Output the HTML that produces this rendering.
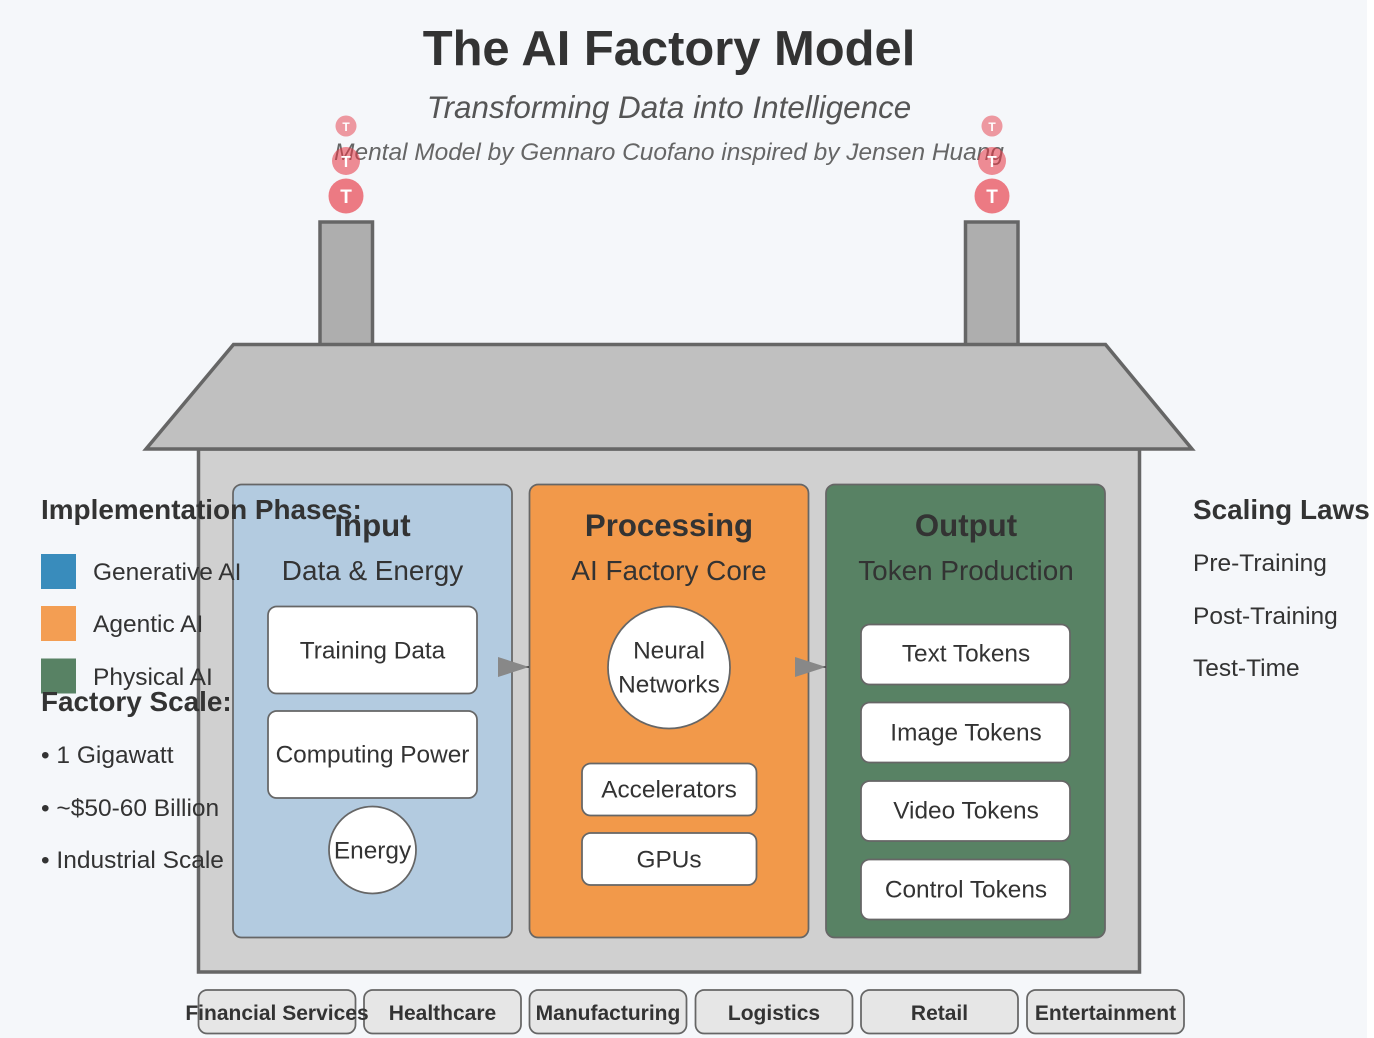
<!DOCTYPE html>
<html><head><meta charset="utf-8"><title>The AI Factory Model</title>
<style>
html,body{margin:0;padding:0;background:#f5f7fa;}
svg{display:block;font-family:"Liberation Sans",Arial,sans-serif;}
text{fill:#333;}
.m{text-anchor:middle;}
.h{font-size:31.2px;font-weight:bold;}
.s{font-size:27.9px;}
.n{font-size:24.4px;}
.l{font-size:24.5px;}
.lh{font-size:27.9px;font-weight:bold;}
.b{fill:#fff;stroke:#666;stroke-width:1.75;}
.p{stroke:#666;stroke-width:1.75;}
.i{fill:#e6e6e6;stroke:#666;stroke-width:1.75;}
.it{font-size:21px;font-weight:bold;text-anchor:middle;}
.tk{fill:#fff;font-weight:bold;text-anchor:middle;}
</style></head><body>
<svg width="1374" height="1038" viewBox="0 0 1374 1038" xmlns="http://www.w3.org/2000/svg">
<rect width="1367" height="1038" fill="#f5f7fa"/>
<rect x="1367" width="7" height="1038" fill="#fff"/>
<text x="669" y="65" class="m" font-size="48.900" font-weight="bold">The AI Factory Model</text>
<text x="669" y="118" class="m" font-size="31.400" font-style="italic" style="fill:#555">Transforming Data into Intelligence</text>
<text x="669" y="160" class="m" font-size="24.450" font-style="italic" style="fill:#666">Mental Model by Gennaro Cuofano inspired by Jensen Huang</text>

<rect x="320" y="222" width="52.500" height="125" fill="#aeaeae" stroke="#666" stroke-width="3.500"/>
<rect x="965.500" y="222" width="52.500" height="125" fill="#aeaeae" stroke="#666" stroke-width="3.500"/>

<circle cx="346" cy="196" r="17.500" fill="#e63946" opacity=".66"/>
<circle cx="346" cy="161" r="14" fill="#e63946" opacity=".57"/>
<circle cx="346" cy="126" r="10.500" fill="#e63946" opacity=".5"/>
<circle cx="992" cy="196" r="17.500" fill="#e63946" opacity=".66"/>
<circle cx="992" cy="161" r="14" fill="#e63946" opacity=".57"/>
<circle cx="992" cy="126" r="10.500" fill="#e63946" opacity=".5"/>
<text x="346" y="203" class="tk" font-size="19" style="fill:#fff">T</text>
<text x="346" y="167" class="tk" font-size="15.500" style="fill:#fff">T</text>
<text x="346" y="131" class="tk" font-size="12" style="fill:#fff">T</text>
<text x="992" y="203" class="tk" font-size="19" style="fill:#fff">T</text>
<text x="992" y="167" class="tk" font-size="15.500" style="fill:#fff">T</text>
<text x="992" y="131" class="tk" font-size="12" style="fill:#fff">T</text>

<rect x="198.500" y="449" width="941" height="523" fill="#d0d0d0" stroke="#666" stroke-width="3.500"/>
<polygon points="233.500,344.500 1105.500,344.500 1192,449 146,449" fill="#c0c0c0" stroke="#666" stroke-width="3.500"/>

<rect x="233" y="484.500" width="279" height="453" rx="8.700" fill="#b3cbe0" class="p"/>
<rect x="529.500" y="484.500" width="279" height="453" rx="8.700" fill="#f2994a" class="p"/>
<rect x="826" y="484.500" width="279" height="453" rx="8.700" fill="#588264" class="p"/>

<text x="372.500" y="536" class="m h">Input</text>
<text x="372.500" y="580" class="m s">Data &amp; Energy</text>
<text x="669" y="536" class="m h">Processing</text>
<text x="669" y="580" class="m s">AI Factory Core</text>
<text x="966" y="536" class="m h">Output</text>
<text x="966" y="580" class="m s">Token Production</text>

<rect x="268" y="606.500" width="209" height="87" rx="8.700" class="b"/>
<text x="372.500" y="658.500" class="m n">Training Data</text>
<rect x="268" y="711" width="209" height="87" rx="8.700" class="b"/>
<text x="372.500" y="762.500" class="m n">Computing Power</text>
<circle cx="372.500" cy="850" r="43.500" class="b"/>
<text x="372.500" y="858.500" class="m n">Energy</text>

<circle cx="669" cy="667.500" r="61" class="b"/>
<text x="669" y="658.500" class="m n">Neural</text>
<text x="669" y="692.500" class="m n">Networks</text>
<rect x="582" y="763.500" width="174.500" height="52" rx="8.700" class="b"/>
<text x="669" y="797.500" class="m n">Accelerators</text>
<rect x="582" y="833" width="174.500" height="52" rx="8.700" class="b"/>
<text x="669" y="867.500" class="m n">GPUs</text>

<rect x="861" y="624.500" width="209" height="60" rx="8.700" class="b"/>
<text x="966" y="661.500" class="m n">Text Tokens</text>
<rect x="861" y="702.500" width="209" height="60" rx="8.700" class="b"/>
<text x="966" y="740.500" class="m n">Image Tokens</text>
<rect x="861" y="781" width="209" height="60" rx="8.700" class="b"/>
<text x="966" y="818.500" class="m n">Video Tokens</text>
<rect x="861" y="859.500" width="209" height="60" rx="8.700" class="b"/>
<text x="966" y="897.500" class="m n">Control Tokens</text>

<line x1="526" y1="667" x2="529" y2="667" stroke="#444" stroke-width="2"/>
<line x1="823" y1="667" x2="826" y2="667" stroke="#444" stroke-width="2"/>
<polygon points="498,657 529,667 498,677" fill="#888"/>
<polygon points="795,657 826,667 795,677" fill="#888"/>

<rect x="198.500" y="990" width="157" height="43.500" rx="8.700" class="i"/>
<rect x="364" y="990" width="157" height="43.500" rx="8.700" class="i"/>
<rect x="529.500" y="990" width="157" height="43.500" rx="8.700" class="i"/>
<rect x="695.500" y="990" width="157" height="43.500" rx="8.700" class="i"/>
<rect x="861" y="990" width="157" height="43.500" rx="8.700" class="i"/>
<rect x="1027" y="990" width="157" height="43.500" rx="8.700" class="i"/>
<text x="277" y="1020" class="it">Financial Services</text>
<text x="442.500" y="1020" class="it">Healthcare</text>
<text x="608" y="1020" class="it">Manufacturing</text>
<text x="774" y="1020" class="it">Logistics</text>
<text x="939.500" y="1020" class="it">Retail</text>
<text x="1105.500" y="1020" class="it">Entertainment</text>

<text x="41" y="519" class="lh">Implementation Phases:</text>
<rect x="41" y="554" width="35" height="35" fill="#2e86b8" opacity=".95"/>
<text x="93" y="580" class="l">Generative AI</text>
<rect x="41" y="606" width="35" height="35" fill="#f2994a" opacity=".95"/>
<text x="93" y="632" class="l">Agentic AI</text>
<rect x="41" y="658.500" width="35" height="35" fill="#588264"/>
<text x="93" y="685" class="l">Physical AI</text>
<text x="41" y="711" class="lh">Factory Scale:</text>
<text x="41" y="763" class="l">• 1 Gigawatt</text>
<text x="41" y="816" class="l">• ~$50-60 Billion</text>
<text x="41" y="868" class="l">• Industrial Scale</text>

<text x="1193" y="519" class="lh">Scaling Laws</text>
<text x="1193" y="571" class="l">Pre-Training</text>
<text x="1193" y="624" class="l">Post-Training</text>
<text x="1193" y="676" class="l">Test-Time</text>
</svg>
</body></html>
